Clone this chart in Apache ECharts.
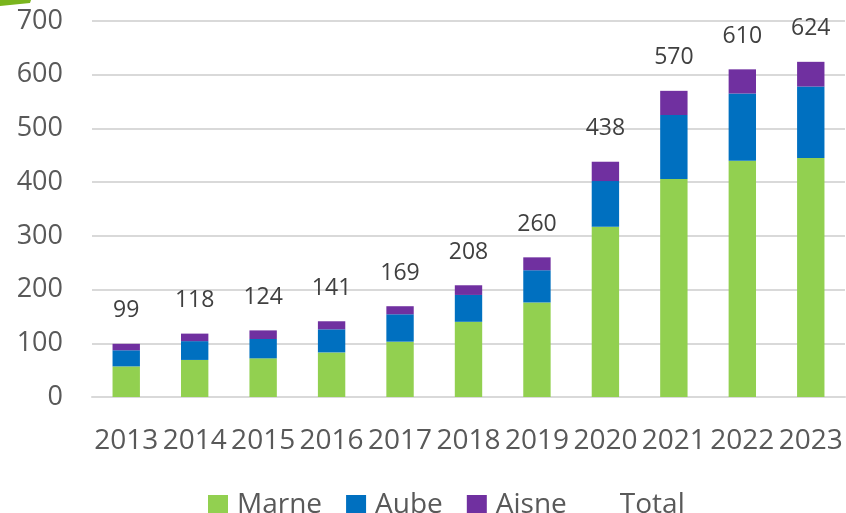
<!DOCTYPE html>
<html>
<head>
<meta charset="utf-8">
<script src="https://cdn.jsdelivr.net/npm/echarts@6/dist/echarts.min.js"></script>
<style>
html,body{margin:0;padding:0;background:#fff;}
#chart{width:846px;height:513px;}
</style>
</head>
<body>
<div id="chart"></div>
<script>
const years = ['2013','2014','2015','2016','2017','2018','2019','2020','2021','2022','2023'];
const marne = [57, 69, 72, 83, 103, 140, 176, 317, 406, 440, 445];
const aube  = [30, 35, 36, 43, 51, 50, 60, 85, 119, 125, 133];
const aisne = [12, 14, 16, 15, 15, 18, 24, 36, 45, 45, 46];
const total = [99, 118, 124, 141, 169, 208, 260, 438, 570, 610, 624];
const yTicks = [0, 100, 200, 300, 400, 500, 600, 700];

const FONT = '"Open Sans", "Noto Sans", sans-serif';
const chart = echarts.init(document.getElementById('chart'), null, {renderer: 'canvas'});
chart.setOption({
  animation: false,
  backgroundColor: '#ffffff',
  graphic: [{
    type: 'polygon',
    shape: {points: [[0,0],[31,0],[30,3],[0,6]]},
    style: {fill: '#7ab51d'}
  }],
  grid: {left: 92, right: 1, top: 21, bottom: 116, containLabel: false},
  legend: {
    bottom: -11,
    left: 203,
    itemWidth: 20,
    itemHeight: 20,
    itemGap: 24,
    textStyle: {fontFamily: FONT, fontSize: 28, color: '#595959', padding: [0,0,0,4]},
    data: [
      {name: 'Marne', icon: 'rect'},
      {name: 'Aube', icon: 'rect'},
      {name: 'Aisne', icon: 'rect'},
      {name: 'Total', icon: 'rect', itemStyle: {color: 'rgba(0,0,0,0)'}}
    ]
  },
  xAxis: {
    type: 'category',
    data: years,
    axisLine: {show: true, lineStyle: {color: '#d9d9d9', width: 2}},
    axisTick: {show: false},
    axisLabel: {fontFamily: FONT, fontSize: 28, color: '#595959', margin: 30, interval: 0}
  },
  yAxis: {
    type: 'value',
    min: 0, max: 700, interval: 100,
    axisLine: {show: false},
    axisTick: {show: false},
    splitLine: {lineStyle: {color: '#d9d9d9', width: 2}},
    axisLabel: {fontFamily: FONT, fontSize: 27, color: '#595959', margin: 29,
      formatter: v => yTicks.includes(v) ? String(v) : ''}
  },
  series: [
    {name: 'Marne', type: 'bar', stack: 'a', data: marne, barWidth: '40%', itemStyle: {color: '#92D050'}},
    {name: 'Aube', type: 'bar', stack: 'a', data: aube, itemStyle: {color: '#0070C0'}},
    {name: 'Aisne', type: 'bar', stack: 'a', data: aisne, itemStyle: {color: '#7030A0'}},
    {name: 'Total', type: 'line', data: total, symbol: 'circle', symbolSize: 1, showSymbol: true,
      itemStyle: {color: 'rgba(0,0,0,0)'},
      lineStyle: {opacity: 0}, z: 10,
      label: {show: true, position: 'top', distance: 21, fontFamily: FONT, fontSize: 23, color: '#404040'}}
  ]
});
</script>
</body>
</html>
